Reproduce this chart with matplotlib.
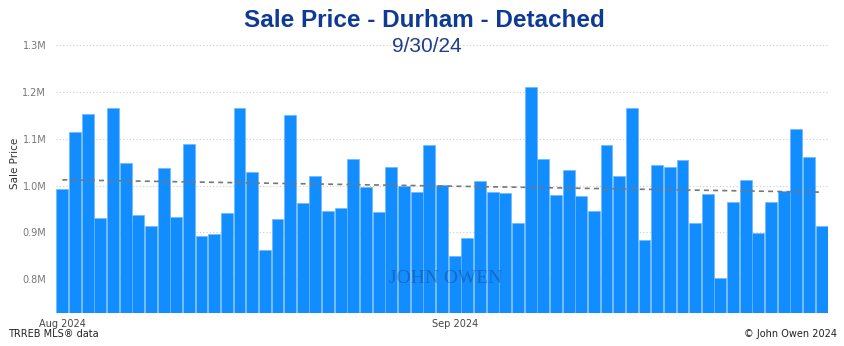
import numpy as np
import pandas as pd
import matplotlib
matplotlib.use("Agg")
import matplotlib.pyplot as plt
import matplotlib.dates as mdates

# daily median sale price, Durham detached (millions)
days = pd.date_range("2024-08-01", "2024-09-30", freq="D")
price_m = [
    0.992, 1.115, 1.153, 0.931, 1.165, 1.048, 0.938, 0.913, 1.037, 0.932,
    1.089, 0.892, 0.896, 0.942, 1.165, 1.029, 0.863, 0.928, 1.151, 0.963,
    1.020, 0.945, 0.952, 1.057, 0.997, 0.944, 1.040, 1.000, 0.987, 1.087,
    1.001, 0.850, 0.889, 1.009, 0.986, 0.985, 0.921, 1.211, 1.057, 0.979,
    1.034, 0.978, 0.945, 1.086, 1.021, 1.165, 0.884, 1.043, 1.040, 1.055,
    0.921, 0.982, 0.803, 0.965, 1.011, 0.899, 0.964, 0.988, 1.121, 1.062,
    0.914,
]
yticks = [0.8, 0.9, 1.0, 1.1, 1.2, 1.3]
title = "Sale Price - Durham - Detached"
subtitle = "9/30/24"

fig = plt.figure(figsize=(8.45, 3.46), dpi=100)
ax = fig.add_axes([56 / 845, 33 / 346, 772 / 845, 268 / 346])

ax.bar(days, price_m, width=0.94, color="#118DFF",
       edgecolor="#6db7ff", linewidth=0.5, zorder=2)

# linear trend over the period
idx = np.arange(len(price_m))
k, b = np.polyfit(idx, price_m, 1)
ax.plot(days, k * idx + b, color="#777777", lw=1.2,
        linestyle=(0, (3, 2.5)), zorder=3)

ax.set_xlim(days[0] - pd.Timedelta(hours=12), days[-1] + pd.Timedelta(hours=12))
ax.set_ylim(0.728, 1.3)
ax.set_yticks(yticks)
ax.set_yticklabels([f"{v:.1f}M" for v in yticks])
ax.set_xticks([days[0], pd.Timestamp("2024-09-01")])
ax.xaxis.set_major_formatter(mdates.DateFormatter("%b %Y"))

ax.grid(axis="y", color="#cccccc", linestyle=(0, (1, 2)), lw=0.8, zorder=0)
ax.tick_params(axis="both", length=0, labelsize=7, colors="#777777")
ax.tick_params(axis="y", pad=7)
ax.tick_params(axis="x", pad=4, colors="#444444")
for s in ax.spines.values():
    s.set_visible(False)
ax.set_ylabel("Sale Price", fontsize=7.5, color="#333333")
ax.yaxis.set_label_coords(-36 / 772, 0.56)

fig.text(0.502, 0.942, title, ha="center", va="center", fontsize=17.5,
         fontweight="bold", color="#0D3A94", family="Liberation Sans")
fig.text(0.505, 0.866, subtitle, ha="center", va="center", fontsize=15,
         color="#1F3D8C", family="Liberation Sans")

# watermark
fig.text(0.527, 0.195, "JOHN OWEN", ha="center", va="center", fontsize=14,
         color="#1b2a50", alpha=0.35, family="Liberation Serif", zorder=5)

fig.text(8 / 845, 0.035, "TRREB MLS\u00ae data", ha="left", va="center",
         fontsize=7, color="#222222")
fig.text(837 / 845, 0.035, "\u00a9 John Owen 2024", ha="right", va="center",
         fontsize=7, color="#222222")

fig.savefig("out.png", dpi=100)
